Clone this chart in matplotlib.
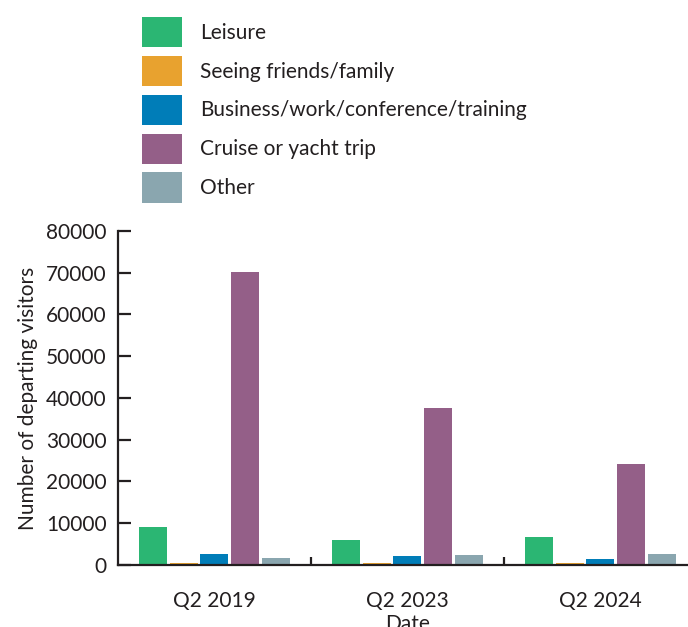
import matplotlib
matplotlib.use('Agg')
import matplotlib.pyplot as plt
import numpy as np

plt.rcParams['font.family'] = ['Lato', 'DejaVu Sans']

quarters = ['Q2 2019', 'Q2 2023', 'Q2 2024']
purposes = ['Leisure', 'Seeing friends/family', 'Business/work/conference/training',
            'Cruise or yacht trip', 'Other']
colors = ['#2bb673', '#e8a22f', '#007db8', '#945f88', '#8aa6af']

leisure = [9200, 6100, 6800]
friends = [500, 400, 400]
business = [2700, 2200, 1500]
cruise = [70100, 37700, 24300]
other = [1700, 2300, 2700]
series = [leisure, friends, business, cruise, other]

fig = plt.figure(figsize=(6.88, 6.27), dpi=100)
ax = fig.add_axes([0.1715, 0.0989, 0.8415, 0.5327])

x = np.arange(len(quarters))
w = 0.145
step = 0.16
for i, (vals, name, c) in enumerate(zip(series, purposes, colors)):
    ax.bar(x + (i - 2) * step, vals, width=w, color=c, label=name)

ax.set_xlim(-0.5, 2.5)
ax.set_ylim(0, 80000)
ax.set_yticks(range(0, 80001, 10000))
ax.set_xticks(x)
ax.set_xticklabels(quarters)
ax.set_xticks([0.5, 1.5], minor=True)

dark = '#231f20'
for s in ['top', 'right']:
    ax.spines[s].set_visible(False)
for s in ['left', 'bottom']:
    ax.spines[s].set_color(dark)
    ax.spines[s].set_linewidth(1.6)

ax.tick_params(axis='y', direction='in', length=9, width=1.6, color=dark,
               labelsize=15, labelcolor=dark, pad=8)
ax.tick_params(axis='x', which='major', length=0, labelsize=15, labelcolor=dark, pad=19)
ax.tick_params(axis='x', which='minor', direction='in', length=6, width=1.6, color=dark)

ax.set_ylabel('Number of departing visitors', fontsize=15, color=dark, labelpad=6)
ax.set_xlabel('Date', fontsize=15, color=dark, labelpad=2)

fig.legend(loc='upper left', bbox_to_anchor=(0.179, 1.003), frameon=False,
           fontsize=15, handlelength=1.92, handleheight=1.85, handletextpad=0.87,
           labelspacing=0.42, labelcolor=dark)

fig.savefig('out.png', dpi=100)
